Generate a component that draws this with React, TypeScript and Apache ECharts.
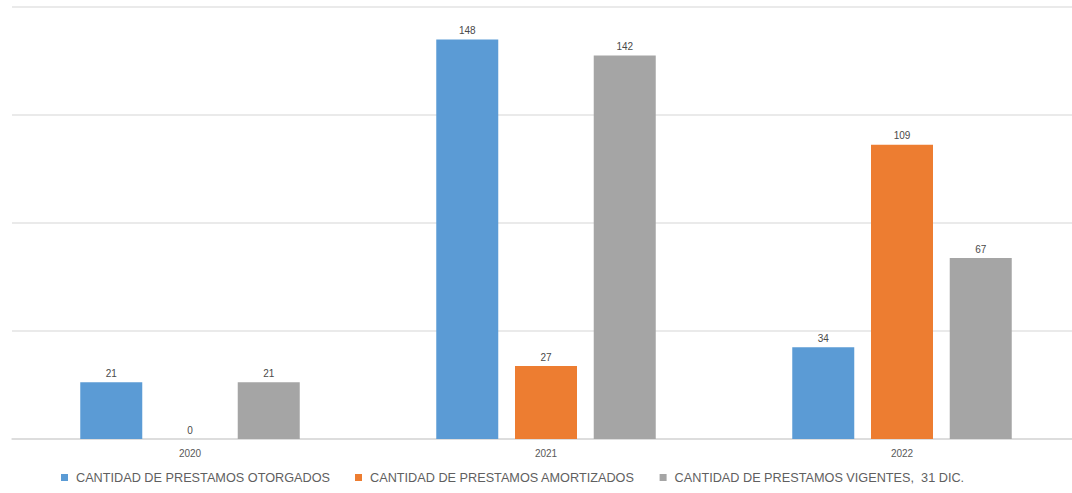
import React, { useEffect, useRef } from "react";
import * as echarts from "echarts";

const categories = ["2020", "2021", "2022"];
const otorgados = [21, 148, 34];
const amortizados = [0, 27, 109];
const vigentes = [21, 142, 67];
const seriesNames = [
  "CANTIDAD DE PRESTAMOS OTORGADOS",
  "CANTIDAD DE PRESTAMOS AMORTIZADOS",
  "CANTIDAD DE PRESTAMOS VIGENTES,  31 DIC.",
];
const colors = ["#5b9bd5", "#ed7d31", "#a5a5a5"];

export default function App() {
  const ref = useRef<HTMLDivElement>(null);
  useEffect(() => {
    if (!ref.current) return;
    const chart = echarts.init(ref.current, null, { renderer: "svg" });
    const mk = (name: string, data: number[], color: string) => ({
      name,
      type: "bar",
      data,
      barWidth: 62,
      barGap: "27%",
      itemStyle: { color },
      label: {
        show: true,
        position: "top",
        distance: 4,
        color: "#4a4a4a",
        fontSize: 10,
        fontFamily: "Liberation Sans, Arial, sans-serif",
      },
    });
    chart.setOption({
      animation: false,
      grid: { left: 12, width: 1068, top: 7, bottom: 54, containLabel: false },
      legend: {
        bottom: 4,
        left: 56,
        itemWidth: 7,
        itemHeight: 7,
        itemGap: 25,
        icon: "rect",
        textStyle: {
          color: "#5f5f5f",
          fontSize: 12.7,
          padding: [0, 0, 0, 3],
          fontFamily: "Liberation Sans, Arial, sans-serif",
        },
        data: seriesNames,
      },
      xAxis: {
        type: "category",
        data: categories,
        axisLine: { show: true, lineStyle: { color: "#d9d9d9", width: 1.5 } },
        axisTick: { show: false },
        axisLabel: {
          color: "#595959",
          fontSize: 10,
          margin: 9,
          fontFamily: "Liberation Sans, Arial, sans-serif",
        },
      },
      yAxis: {
        type: "value",
        min: 0,
        max: 160,
        interval: 40,
        axisLabel: { show: false },
        axisLine: { show: false },
        axisTick: { show: false },
        splitLine: { lineStyle: { color: "#e3e3e3", width: 1.5 } },
      },
      series: [
        mk(seriesNames[0], otorgados, colors[0]),
        mk(seriesNames[1], amortizados, colors[1]),
        mk(seriesNames[2], vigentes, colors[2]),
      ],
    });
    return () => chart.dispose();
  }, []);
  return (
    <div style={{ position: "absolute", left: 0, top: 0, width: 1072, height: 493, overflow: "hidden" }}>
      <div ref={ref} style={{ width: 1090, height: 493 }} />
    </div>
  );
}
